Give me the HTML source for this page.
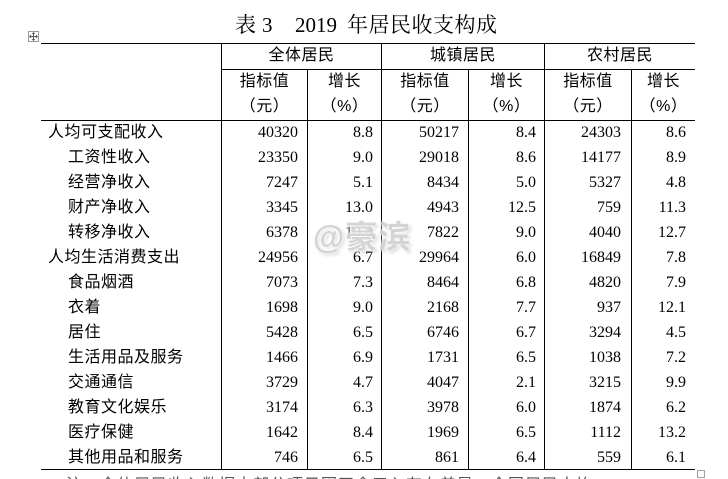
<!DOCTYPE html>
<html>
<head>
<meta charset="utf-8">
<style>
  html,body{margin:0;padding:0;overflow:hidden;width:728px;height:479px;background:#fff;}
  #wrap{position:relative;width:728px;height:479px;overflow:hidden;background:#fff;
       font-family:"Liberation Sans","Noto Sans CJK SC",sans-serif;color:#000;}
  .a{position:absolute;white-space:nowrap;}
  .hl{position:absolute;height:1px;background:#000;}
  .vl{position:absolute;width:1px;background:#000;}
  .cn{font-family:"Liberation Sans","Noto Sans CJK SC",sans-serif;font-size:16px;letter-spacing:0.5px;}
  .num{font-family:"Liberation Serif","Noto Serif CJK SC",serif;font-size:16px;text-align:right;}
  .hc{text-align:center;font-family:"Liberation Sans","Noto Sans CJK SC",sans-serif;font-size:16px;letter-spacing:0.5px;}
  .title{font-family:"Liberation Serif","Noto Serif CJK SC",serif;font-size:21px;line-height:30px;top:10px;}
  .r{position:absolute;left:0;width:728px;height:25px;line-height:25px;}
</style>
</head>
<body>
<div id="wrap">

<!-- Title -->
<div class="a title" style="left:235px;">表</div>
<div class="a title" style="left:262px;">3</div>
<div class="a title" style="left:295px;">2019</div>
<div class="a title" style="left:347px;letter-spacing:0.5px;">年居民收支构成</div>

<!-- move icon -->
<div class="a" style="left:28px;top:31px;width:11px;height:11px;border:1px solid #9a9a9a;box-sizing:border-box;">
  <svg width="9" height="9" viewBox="0 0 9 9" style="position:absolute;left:0;top:0">
    <path d="M4.5 0.5V8.5M0.5 4.5H8.5" stroke="#555" stroke-width="1"/>
    <path d="M4.5 0.5L3 2M4.5 0.5L6 2M4.5 8.5L3 7M4.5 8.5L6 7M0.5 4.5L2 3M0.5 4.5L2 6M8.5 4.5L7 3M8.5 4.5L7 6" stroke="#555" stroke-width="0.8" fill="none"/>
  </svg>
</div>

<!-- horizontal lines -->
<div class="hl" style="left:41px;top:43px;width:654px;"></div>
<div class="hl" style="left:221px;top:69px;width:474px;"></div>
<div class="hl" style="left:41px;top:120px;width:654px;"></div>
<div class="hl" style="left:41px;top:469px;width:654px;"></div>

<!-- vertical lines -->
<div class="vl" style="left:221px;top:43px;height:427px;"></div>
<div class="vl" style="left:381px;top:43px;height:427px;"></div>
<div class="vl" style="left:544px;top:43px;height:427px;"></div>
<div class="vl" style="left:307px;top:69px;height:401px;"></div>
<div class="vl" style="left:468px;top:69px;height:401px;"></div>
<div class="vl" style="left:631px;top:69px;height:401px;"></div>

<!-- bottom-right small square -->
<div class="a" style="left:697px;top:470px;width:8px;height:8px;border:1px solid #a0a0a0;box-sizing:border-box;"></div>

<!-- Header row 1 -->
<div class="a hc" style="left:222px;width:159px;top:43px;height:26px;line-height:26px;">全体居民</div>
<div class="a hc" style="left:382px;width:162px;top:43px;height:26px;line-height:26px;">城镇居民</div>
<div class="a hc" style="left:545px;width:150px;top:43px;height:26px;line-height:26px;">农村居民</div>

<!-- Header row 2 -->
<div class="a hc" style="left:222px;width:85px;top:69px;height:25px;line-height:25px;">指标值</div>
<div class="a hc" style="left:222px;width:85px;top:94px;height:25px;line-height:25px;">（元）</div>
<div class="a hc" style="left:308px;width:73px;top:69px;height:25px;line-height:25px;">增长</div>
<div class="a hc" style="left:308px;width:73px;top:94px;height:25px;line-height:25px;">（%）</div>
<div class="a hc" style="left:382px;width:86px;top:69px;height:25px;line-height:25px;">指标值</div>
<div class="a hc" style="left:382px;width:86px;top:94px;height:25px;line-height:25px;">（元）</div>
<div class="a hc" style="left:469px;width:75px;top:69px;height:25px;line-height:25px;">增长</div>
<div class="a hc" style="left:469px;width:75px;top:94px;height:25px;line-height:25px;">（%）</div>
<div class="a hc" style="left:545px;width:86px;top:69px;height:25px;line-height:25px;">指标值</div>
<div class="a hc" style="left:545px;width:86px;top:94px;height:25px;line-height:25px;">（元）</div>
<div class="a hc" style="left:632px;width:63px;top:69px;height:25px;line-height:25px;">增长</div>
<div class="a hc" style="left:632px;width:63px;top:94px;height:25px;line-height:25px;">（%）</div>

<!-- Data rows -->
<div class="r" style="top:120px;">
  <div class="a cn" style="left:48px;">人均可支配收入</div>
  <div class="a num" style="right:430px;">40320</div>
  <div class="a num" style="right:355px;">8.8</div>
  <div class="a num" style="right:269px;">50217</div>
  <div class="a num" style="right:192px;">8.4</div>
  <div class="a num" style="right:107px;">24303</div>
  <div class="a num" style="right:42px;">8.6</div>
</div>
<div class="r" style="top:145px;">
  <div class="a cn" style="left:68px;">工资性收入</div>
  <div class="a num" style="right:430px;">23350</div>
  <div class="a num" style="right:355px;">9.0</div>
  <div class="a num" style="right:269px;">29018</div>
  <div class="a num" style="right:192px;">8.6</div>
  <div class="a num" style="right:107px;">14177</div>
  <div class="a num" style="right:42px;">8.9</div>
</div>
<div class="r" style="top:170px;">
  <div class="a cn" style="left:68px;">经营净收入</div>
  <div class="a num" style="right:430px;">7247</div>
  <div class="a num" style="right:355px;">5.1</div>
  <div class="a num" style="right:269px;">8434</div>
  <div class="a num" style="right:192px;">5.0</div>
  <div class="a num" style="right:107px;">5327</div>
  <div class="a num" style="right:42px;">4.8</div>
</div>
<div class="r" style="top:195px;">
  <div class="a cn" style="left:68px;">财产净收入</div>
  <div class="a num" style="right:430px;">3345</div>
  <div class="a num" style="right:355px;">13.0</div>
  <div class="a num" style="right:269px;">4943</div>
  <div class="a num" style="right:192px;">12.5</div>
  <div class="a num" style="right:107px;">759</div>
  <div class="a num" style="right:42px;">11.3</div>
</div>
<div class="r" style="top:220px;">
  <div class="a cn" style="left:68px;">转移净收入</div>
  <div class="a num" style="right:430px;">6378</div>
  <div class="a num" style="right:355px;">10.0</div>
  <div class="a num" style="right:269px;">7822</div>
  <div class="a num" style="right:192px;">9.0</div>
  <div class="a num" style="right:107px;">4040</div>
  <div class="a num" style="right:42px;">12.7</div>
</div>
<div class="r" style="top:245px;">
  <div class="a cn" style="left:48px;">人均生活消费支出</div>
  <div class="a num" style="right:430px;">24956</div>
  <div class="a num" style="right:355px;">6.7</div>
  <div class="a num" style="right:269px;">29964</div>
  <div class="a num" style="right:192px;">6.0</div>
  <div class="a num" style="right:107px;">16849</div>
  <div class="a num" style="right:42px;">7.8</div>
</div>
<div class="r" style="top:270px;">
  <div class="a cn" style="left:68px;">食品烟酒</div>
  <div class="a num" style="right:430px;">7073</div>
  <div class="a num" style="right:355px;">7.3</div>
  <div class="a num" style="right:269px;">8464</div>
  <div class="a num" style="right:192px;">6.8</div>
  <div class="a num" style="right:107px;">4820</div>
  <div class="a num" style="right:42px;">7.9</div>
</div>
<div class="r" style="top:295px;">
  <div class="a cn" style="left:68px;">衣着</div>
  <div class="a num" style="right:430px;">1698</div>
  <div class="a num" style="right:355px;">9.0</div>
  <div class="a num" style="right:269px;">2168</div>
  <div class="a num" style="right:192px;">7.7</div>
  <div class="a num" style="right:107px;">937</div>
  <div class="a num" style="right:42px;">12.1</div>
</div>
<div class="r" style="top:320px;">
  <div class="a cn" style="left:68px;">居住</div>
  <div class="a num" style="right:430px;">5428</div>
  <div class="a num" style="right:355px;">6.5</div>
  <div class="a num" style="right:269px;">6746</div>
  <div class="a num" style="right:192px;">6.7</div>
  <div class="a num" style="right:107px;">3294</div>
  <div class="a num" style="right:42px;">4.5</div>
</div>
<div class="r" style="top:345px;">
  <div class="a cn" style="left:68px;">生活用品及服务</div>
  <div class="a num" style="right:430px;">1466</div>
  <div class="a num" style="right:355px;">6.9</div>
  <div class="a num" style="right:269px;">1731</div>
  <div class="a num" style="right:192px;">6.5</div>
  <div class="a num" style="right:107px;">1038</div>
  <div class="a num" style="right:42px;">7.2</div>
</div>
<div class="r" style="top:370px;">
  <div class="a cn" style="left:68px;">交通通信</div>
  <div class="a num" style="right:430px;">3729</div>
  <div class="a num" style="right:355px;">4.7</div>
  <div class="a num" style="right:269px;">4047</div>
  <div class="a num" style="right:192px;">2.1</div>
  <div class="a num" style="right:107px;">3215</div>
  <div class="a num" style="right:42px;">9.9</div>
</div>
<div class="r" style="top:395px;">
  <div class="a cn" style="left:68px;">教育文化娱乐</div>
  <div class="a num" style="right:430px;">3174</div>
  <div class="a num" style="right:355px;">6.3</div>
  <div class="a num" style="right:269px;">3978</div>
  <div class="a num" style="right:192px;">6.0</div>
  <div class="a num" style="right:107px;">1874</div>
  <div class="a num" style="right:42px;">6.2</div>
</div>
<div class="r" style="top:420px;">
  <div class="a cn" style="left:68px;">医疗保健</div>
  <div class="a num" style="right:430px;">1642</div>
  <div class="a num" style="right:355px;">8.4</div>
  <div class="a num" style="right:269px;">1969</div>
  <div class="a num" style="right:192px;">6.5</div>
  <div class="a num" style="right:107px;">1112</div>
  <div class="a num" style="right:42px;">13.2</div>
</div>
<div class="r" style="top:445px;">
  <div class="a cn" style="left:68px;">其他用品和服务</div>
  <div class="a num" style="right:430px;">746</div>
  <div class="a num" style="right:355px;">6.5</div>
  <div class="a num" style="right:269px;">861</div>
  <div class="a num" style="right:192px;">6.4</div>
  <div class="a num" style="right:107px;">559</div>
  <div class="a num" style="right:42px;">6.1</div>
</div>

<!-- watermark -->
<div class="a" style="left:313px;top:217px;font-family:'Liberation Sans','Noto Sans CJK SC',sans-serif;font-weight:bold;font-size:32px;line-height:40px;letter-spacing:1px;color:rgba(205,205,205,0.85);text-shadow:0 0 3px #fff,0 0 4px #fff,2px 2px 3px rgba(170,170,170,0.6);">@豪滨</div>

<!-- cut-off next line of text at the bottom -->
<div class="a" style="left:66px;top:478px;font-family:'Liberation Sans','Noto Sans CJK SC',sans-serif;font-size:16px;line-height:16px;letter-spacing:1px;color:#555;">注：全体居民收入数据中部分项目因四舍五入存在差异。全国居民人均</div>

</div>
</body>
</html>
